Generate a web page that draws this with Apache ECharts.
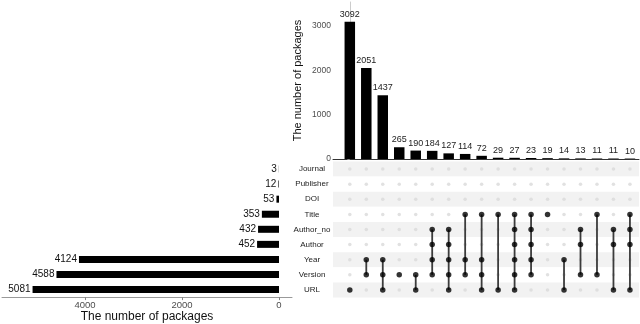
<!DOCTYPE html>
<html>
<head>
<meta charset="utf-8">
<script src="https://cdn.jsdelivr.net/npm/echarts@6/dist/echarts.min.js"></script>
<style>
  html, body { margin: 0; padding: 0; background: #fff; }
  #main { width: 640px; height: 324px; }
</style>
</head>
<body>
<div id="main"></div>
<script>
// sets, top to bottom as in the matrix
var sets = ['Journal', 'Publisher', 'DOI', 'Title', 'Author_no', 'Author', 'Year', 'Version', 'URL'];
var setSizes = [3, 12, 53, 353, 432, 452, 4124, 4588, 5081];

// intersections, left to right
var interCounts = [3092, 2051, 1437, 265, 190, 184, 127, 114, 72, 29, 27, 23, 19, 14, 13, 11, 11, 10];
var interSets = [
  ['URL'],
  ['Year', 'Version'],
  ['Year', 'Version', 'URL'],
  ['Version'],
  ['Version', 'URL'],
  ['Author_no', 'Author', 'Year', 'Version'],
  ['Author_no', 'Author', 'Year', 'Version', 'URL'],
  ['Title', 'Year', 'Version'],
  ['Title', 'Year', 'Version', 'URL'],
  ['Title', 'URL'],
  ['Title', 'Author_no', 'Author', 'Year', 'Version', 'URL'],
  ['Title', 'Author_no', 'Author', 'Year', 'Version'],
  ['Title'],
  ['Year', 'URL'],
  ['Author_no', 'Author', 'Version'],
  ['Title', 'Version'],
  ['Author_no', 'Author', 'URL'],
  ['Title', 'Author_no', 'Author', 'URL']
];

var topTicks = [0, 1000, 2000, 3000];
var leftTicks = [0, 2000, 4000];

var font = 'Liberation Sans, Arial, Helvetica, sans-serif';

// build matrix points
var onDots = [], offDots = [], segs = [];
interSets.forEach(function (s, i) {
  var idx = [];
  sets.forEach(function (name, r) {
    if (s.indexOf(name) >= 0) { onDots.push([i, r]); idx.push(r); }
    else offDots.push([i, r]);
  });
  if (idx.length > 1) segs.push([i, Math.min.apply(null, idx), Math.max.apply(null, idx)]);
});

function plain(v) { return String(v); }

var myChart = echarts.init(document.getElementById('main'));

var option = {
  animation: false,
  textStyle: { fontFamily: font },
  grid: [
    { left: 333, top: 2, width: 306, height: 157 },
    { left: 333, top: 161.5, width: 306, height: 136 },
    { left: 2, top: 161.5, width: 290, height: 136 }
  ],
  xAxis: [
    {
      gridIndex: 0, type: 'value', min: -1.02, max: 17.55,
      axisLine: { show: true, lineStyle: { color: '#333', width: 1 } },
      axisTick: { show: false }, axisLabel: { show: false }, splitLine: { show: false }
    },
    { gridIndex: 1, type: 'value', min: -1.02, max: 17.55, show: false },
    {
      gridIndex: 2, type: 'value', inverse: true, min: -268, max: 5711,
      axisLine: { show: true, lineStyle: { color: '#999', width: 1 } },
      axisTick: { show: true, customValues: leftTicks, length: 3, lineStyle: { color: '#888' } },
      axisLabel: { customValues: leftTicks, formatter: plain, fontSize: 9.5, color: '#4d4d4d', margin: 3 },
      splitLine: { show: false },
      name: 'The number of packages', nameLocation: 'middle', nameGap: 13,
      nameTextStyle: { fontSize: 12, color: '#111' }
    }
  ],
  yAxis: [
    {
      gridIndex: 0, type: 'value', min: 0, max: 3540,
      axisLine: { show: true, lineStyle: { color: '#ccc', width: 1 } },
      axisTick: { show: true, customValues: topTicks, length: 2.5, lineStyle: { color: '#888' } },
      axisLabel: { customValues: topTicks, formatter: plain, fontSize: 8.5, color: '#4d4d4d', margin: 2 },
      splitLine: { show: false },
      name: 'The number of packages', nameLocation: 'middle', nameGap: 30,
      nameTextStyle: { fontSize: 11, color: '#111' }
    },
    {
      gridIndex: 1, type: 'category', data: sets, inverse: true,
      axisLine: { show: false }, axisTick: { show: false },
      axisLabel: { align: 'center', margin: 21, fontSize: 8, color: '#222' },
      splitArea: { show: true, areaStyle: { color: ['#f2f2f2', '#ffffff'] } }
    },
    { gridIndex: 2, type: 'category', data: sets, inverse: true, show: false }
  ],
  series: [
    {
      type: 'bar', xAxisIndex: 0, yAxisIndex: 0, barWidth: 10.5,
      data: interCounts.map(function (v, i) { return [i, v]; }),
      itemStyle: { color: '#000' },
      label: { show: true, position: 'top', distance: 3, fontSize: 9, color: '#222',
        formatter: function (p) { return p.value[1]; } }
    },
    {
      type: 'scatter', xAxisIndex: 1, yAxisIndex: 1, data: offDots,
      symbolSize: 3.5, itemStyle: { color: '#dadada' }, z: 2
    },
    {
      type: 'custom', xAxisIndex: 1, yAxisIndex: 1, data: segs, z: 3,
      encode: { x: 0, y: [1, 2] },
      renderItem: function (params, api) {
        var a = api.coord([api.value(0), api.value(1)]);
        var b = api.coord([api.value(0), api.value(2)]);
        return { type: 'line', shape: { x1: a[0], y1: a[1], x2: b[0], y2: b[1] },
          style: { stroke: '#3c3c3c', lineWidth: 1.8 } };
      }
    },
    {
      type: 'scatter', xAxisIndex: 1, yAxisIndex: 1, data: onDots,
      symbolSize: 5.5, itemStyle: { color: '#000' }, z: 4
    },
    {
      type: 'bar', xAxisIndex: 2, yAxisIndex: 2, barWidth: 7,
      data: setSizes,
      itemStyle: { color: '#000' },
      label: { show: true, position: 'left', distance: 2, fontSize: 10, color: '#111' }
    }
  ]
};

myChart.setOption(option);
</script>
</body>
</html>
